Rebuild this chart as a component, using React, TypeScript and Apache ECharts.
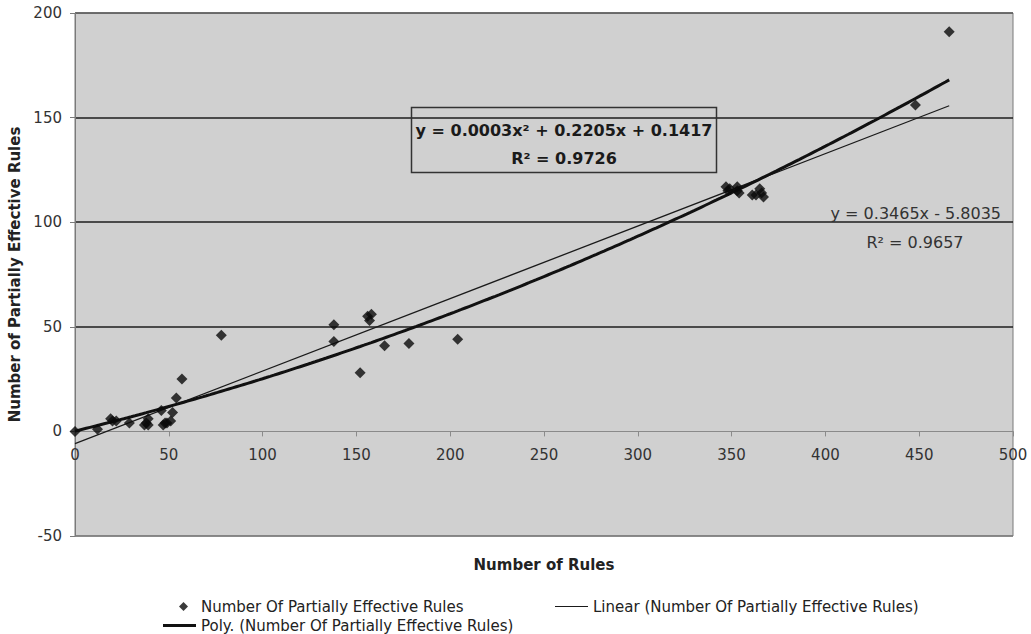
import React, { useEffect, useRef } from "react";
import * as echarts from "echarts";

// Scatter data
const ruleCounts = [0, 12, 19, 20, 22, 29, 37, 38, 39, 39, 46, 47, 48, 49, 51, 52, 54, 57, 78, 138, 138, 152, 156, 157, 158, 165, 178, 204, 347, 348, 349, 353, 353, 354, 361, 363, 365, 366, 367, 448, 466];
const partialCounts = [0, 1, 6, 5, 5, 4, 3, 4, 3, 6, 10, 3, 4, 4, 5, 9, 16, 25, 46, 51, 43, 28, 55, 53, 56, 41, 42, 44, 117, 115, 116, 117, 115, 114, 113, 113, 116, 114, 112, 156, 191];

// Trendline coefficients as printed on the chart
const linearCoef = { slope: 0.3465, intercept: -5.8035, r2: 0.9657 };
const polyCoef = { a: 0.0003, b: 0.2205, c: 0.1417, r2: 0.9726 };

// Axis ticks
const xTicks = { min: 0, max: 500, interval: 50 };
const yTicks = { min: -50, max: 200, interval: 50 };

const seriesNames = {
  scatter: "Number Of Partially Effective Rules",
  linear: "Linear (Number Of Partially Effective Rules)",
  poly: "Poly. (Number Of Partially Effective Rules)",
};

const FONT = "DejaVu Sans";

const GRID = { left: 75, right: 18, top: 13, bottom: 98 };
const HEIGHT = 634;

export default function App() {
  const ref = useRef<HTMLDivElement>(null);

  useEffect(() => {
    if (!ref.current) return;
    const chart = echarts.init(ref.current, null, { renderer: "svg" });

    const xMinData = Math.min(...ruleCounts);
    const xMaxData = Math.max(...ruleCounts);
    const linearLine = [xMinData, xMaxData].map((x) => [x, linearCoef.slope * x + linearCoef.intercept]);
    const polyLine: number[][] = [];
    for (let x = xMinData; x <= xMaxData; x += 2) {
      polyLine.push([x, polyCoef.a * x * x + polyCoef.b * x + polyCoef.c]);
    }
    if (polyLine[polyLine.length - 1][0] !== xMaxData) {
      polyLine.push([xMaxData, polyCoef.a * xMaxData * xMaxData + polyCoef.b * xMaxData + polyCoef.c]);
    }

    const scatterData = ruleCounts.map((x, i) => [x, partialCounts[i]]);

    // x axis sits on y = 0: shift it up from the grid bottom by the height of the negative range
    const gridHeight = HEIGHT - GRID.top - GRID.bottom;
    const zeroOffset = (gridHeight * (0 - yTicks.min)) / (yTicks.max - yTicks.min);

    const legendText = { fontFamily: FONT, fontSize: 15, color: "#222" };

    chart.setOption({
      animation: false,
      textStyle: { fontFamily: FONT },
      grid: {
        ...GRID,
        show: true,
        backgroundColor: "#d0d0d0",
        borderColor: "#7a7a7a",
        borderWidth: 1,
        containLabel: false,
        outerBoundsMode: "none",
      },
      xAxis: {
        type: "value",
        min: xTicks.min,
        max: xTicks.max,
        interval: xTicks.interval,
        position: "bottom",
        offset: -zeroOffset,
        name: "Number of Rules",
        nameLocation: "middle",
        nameGap: 126,
        nameTextStyle: { fontFamily: FONT, fontSize: 15, fontWeight: "bold", color: "#222" },
        axisLine: { show: true, onZero: false, lineStyle: { color: "#8a8a8a", width: 1 } },
        axisTick: { show: true, length: 5, lineStyle: { color: "#8a8a8a" } },
        axisLabel: { fontFamily: FONT, fontSize: 15, color: "#333", margin: 16 },
        splitLine: { show: false },
      },
      yAxis: {
        type: "value",
        min: yTicks.min,
        max: yTicks.max,
        interval: yTicks.interval,
        name: "Number of Partially Effective Rules",
        nameLocation: "middle",
        nameGap: 42,
        nameTextStyle: { fontFamily: FONT, fontSize: 15, fontWeight: "bold", color: "#222" },
        axisLine: { show: true, onZero: false, lineStyle: { color: "#7a7a7a" } },
        axisTick: { show: true, length: 5, lineStyle: { color: "#7a7a7a" } },
        axisLabel: { fontFamily: FONT, fontSize: 15, color: "#333", margin: 13 },
        splitLine: {
          show: true,
          lineStyle: {
            color: ["#7a7a7a", "rgba(0,0,0,0)", "#1e1e1e", "#1e1e1e", "#1e1e1e", "#555555"],
            width: 1.5,
          },
        },
      },
      legend: [
        {
          data: [{ name: seriesNames.scatter, icon: "diamond" }],
          left: 174,
          top: 594,
          itemWidth: 9,
          itemHeight: 9,
          textStyle: { ...legendText, padding: [0, 0, 0, 8] },
          selectedMode: false,
        },
        {
          data: [{ name: seriesNames.linear, icon: "rect" }],
          left: 550,
          top: 594,
          itemWidth: 33,
          itemHeight: 1,
          textStyle: legendText,
          selectedMode: false,
        },
        {
          data: [{ name: seriesNames.poly, icon: "rect" }],
          left: 158,
          top: 613,
          itemWidth: 33,
          itemHeight: 3,
          textStyle: legendText,
          selectedMode: false,
        },
      ],
      graphic: [
        {
          type: "rect",
          shape: { x: 411.5, y: 107.5, width: 305, height: 65 },
          style: { fill: "rgba(0,0,0,0)", stroke: "#333", lineWidth: 1.5 },
          z: 10,
        },
        {
          type: "text",
          x: 564,
          y: 130,
          style: {
            text: "y = 0.0003x² + 0.2205x + 0.1417",
            font: `bold 16px "${FONT}"`,
            fill: "#1a1a1a",
            align: "center",
            verticalAlign: "middle",
          },
          z: 10,
        },
        {
          type: "text",
          x: 564,
          y: 158,
          style: {
            text: "R² = 0.9726",
            font: `bold 16px "${FONT}"`,
            fill: "#1a1a1a",
            align: "center",
            verticalAlign: "middle",
          },
          z: 10,
        },
        {
          type: "text",
          x: 1001,
          y: 213,
          style: {
            text: "y = 0.3465x - 5.8035",
            font: `16px "${FONT}"`,
            fill: "#333",
            align: "right",
            verticalAlign: "middle",
          },
          z: 10,
        },
        {
          type: "text",
          x: 915,
          y: 242,
          style: {
            text: "R² = 0.9657",
            font: `16px "${FONT}"`,
            fill: "#333",
            align: "center",
            verticalAlign: "middle",
          },
          z: 10,
        },
      ],
      series: [
        {
          name: seriesNames.linear,
          type: "line",
          data: linearLine,
          showSymbol: false,
          symbol: "none",
          lineStyle: { color: "#1a1a1a", width: 1.3 },
          itemStyle: { color: "#1a1a1a" },
          z: 2,
        },
        {
          name: seriesNames.poly,
          type: "line",
          data: polyLine,
          showSymbol: false,
          symbol: "none",
          lineStyle: { color: "#111", width: 3 },
          itemStyle: { color: "#111" },
          z: 2,
        },
        {
          name: seriesNames.scatter,
          type: "scatter",
          data: scatterData,
          symbol: "diamond",
          symbolSize: 11,
          itemStyle: { color: "#0a0a0a" },
          z: 3,
        },
      ],
    });

    return () => chart.dispose();
  }, []);

  return (
    <div
      ref={ref}
      style={{ position: "fixed", left: 0, top: 0, width: 1031, height: HEIGHT, background: "#fff" }}
    />
  );
}
